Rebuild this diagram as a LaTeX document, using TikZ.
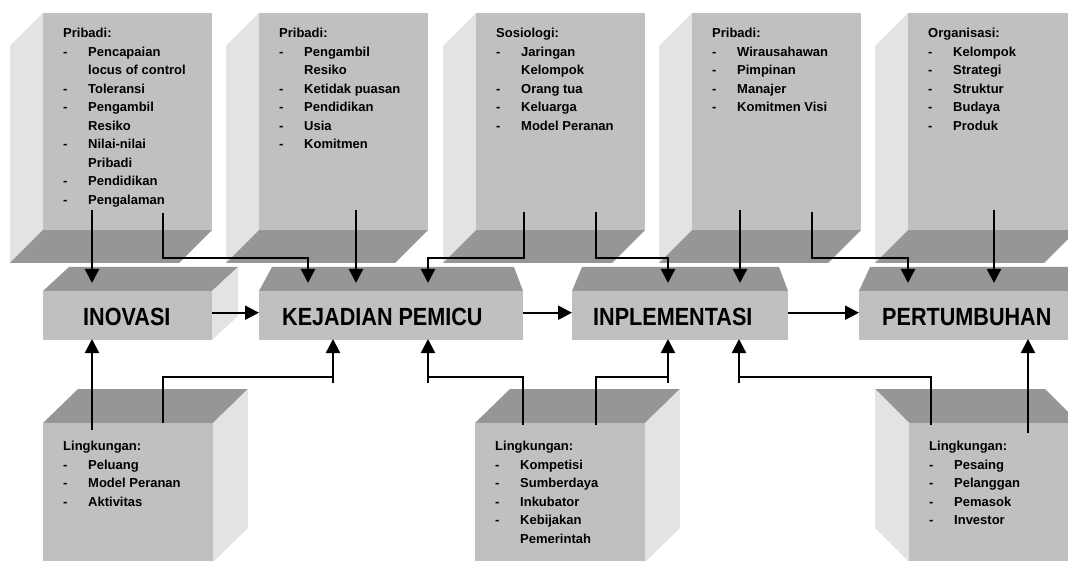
\documentclass[tikz,border=0pt]{standalone}
\usepackage{fontspec}
\setmainfont{Liberation Sans}
\usepackage{graphicx}
\usepackage{tikz}
\usetikzlibrary{
  arrows.meta}

\definecolor{facegray}{RGB}{192,192,192}
\definecolor{sidegray}{RGB}{227,227,227}
\definecolor{shadegray}{RGB}{150,150,150}

\newcommand{\li}[1]{\makebox[25pt][l]{-}#1}
\newcommand{\lc}[1]{\hspace*{25pt}#1}
\newcommand{\tall}[1]{\scalebox{1}[1.15]{#1}}

% upper column: side face to the left, shade underneath
\newcommand{\topbox}[2]{%
  \fill[sidegray] (#1,13) -- ++(-33,33) -- ++(0,217) -- ++(33,-33) -- cycle;
  \fill[shadegray] (#1,230) -- ++(169,0) -- ++(-33,33) -- ++(-169,0) -- cycle;
  \node[facebox, minimum width=169pt, minimum height=217pt] (#2) at (#1,13) {};
}
% lower column: lid on top, side face to the right
\newcommand{\lowbox}[2]{%
  \fill[shadegray] (#1,423) -- ++(35,-34) -- ++(170,0) -- ++(-35,34) -- cycle;
  \fill[sidegray] (#1+170,423) -- ++(35,-34) -- ++(0,139) -- ++(-35,34) -- cycle;
  \node[facebox, minimum width=170pt, minimum height=150pt] (#2) at (#1,423) {};
}

\tikzset{
  facebox/.style={fill=facegray, draw=none, inner sep=0pt, anchor=north west},
  listtext/.style={anchor=north west, inner sep=0pt, align=left,
    font=\bfseries\fontsize{13}{18.5}\selectfont},
  stagetext/.style={anchor=west, inner sep=0pt,
    font=\bfseries\fontsize{21.6}{24}\selectfont},
  link/.style={line width=2.2pt},
  linkarrow/.style={line width=2.2pt, -{Triangle[length=14pt,width=14pt]}}
}

\begin{document}
\begin{tikzpicture}[x=1pt, y=-1pt]
\useasboundingbox (0,0) rectangle (1068,561);
\clip (0,0) rectangle (1068,561);

% upper columns
\topbox{43}{pri1}
\topbox{259}{pri2}
\topbox{476}{sos}
\topbox{692}{pri3}
\topbox{908}{org}

\node[listtext] (pri1txt) at (63,28) {Pribadi:\\ \li{Pencapaian}\\ \lc{locus of control}\\
  \li{Toleransi}\\ \li{Pengambil}\\ \lc{Resiko}\\ \li{Nilai-nilai}\\ \lc{Pribadi}\\
  \li{Pendidikan}\\ \li{Pengalaman}};
\node[listtext] (pri2txt) at (279,28) {Pribadi:\\ \li{Pengambil}\\ \lc{Resiko}\\
  \li{Ketidak puasan}\\ \li{Pendidikan}\\ \li{Usia}\\ \li{Komitmen}};
\node[listtext] (sostxt) at (496,28) {Sosiologi:\\ \li{Jaringan}\\ \lc{Kelompok}\\
  \li{Orang tua}\\ \li{Keluarga}\\ \li{Model Peranan}};
\node[listtext] (pri3txt) at (712,28) {Pribadi:\\ \li{Wirausahawan}\\ \li{Pimpinan}\\
  \li{Manajer}\\ \li{Komitmen Visi}};
\node[listtext] (orgtxt) at (928,28) {Organisasi:\\ \li{Kelompok}\\ \li{Strategi}\\
  \li{Struktur}\\ \li{Budaya}\\ \li{Produk}};

% stages
\fill[shadegray] (43,291) -- ++(26,-24) -- ++(169,0) -- ++(-26,24) -- cycle;
\fill[sidegray] (212,291) -- ++(26,-24) -- ++(0,49) -- ++(-26,24) -- cycle;
\node[facebox, minimum width=169pt, minimum height=49pt] (ino) at (43,291) {};
\fill[shadegray] (259,291) -- (272,267) -- (514,267) -- (523,291) -- cycle;
\node[facebox, minimum width=264pt, minimum height=49pt] (kej) at (259,291) {};
\fill[shadegray] (572,291) -- (582,267) -- (779,267) -- (788,291) -- cycle;
\node[facebox, minimum width=216pt, minimum height=49pt] (imp) at (572,291) {};
\fill[shadegray] (859,291) -- (870,267) -- (1081,267) -- (1090,291) -- cycle;
\node[facebox, minimum width=231pt, minimum height=49pt] (per) at (859,291) {};

\node[stagetext] (inotxt) at (83,317) {\tall{INOVASI}};
\node[stagetext] (kejtxt) at (282,317) {\tall{KEJADIAN PEMICU}};
\node[stagetext] (imptxt) at (593,317) {\tall{INPLEMENTASI}};
\node[stagetext] (pertxt) at (882,317) {\tall{PERTUMBUHAN}};

% lower columns
\lowbox{43}{env1}
\lowbox{475}{env2}
\fill[shadegray] (909,423) -- ++(-34,-34) -- ++(170,0) -- ++(34,34) -- cycle;
\fill[sidegray] (909,423) -- ++(-34,-34) -- ++(0,139) -- ++(34,34) -- cycle;
\node[facebox, minimum width=170pt, minimum height=150pt] (env3) at (909,423) {};

\node[listtext] (env1txt) at (63,441) {Lingkungan:\\ \li{Peluang}\\ \li{Model Peranan}\\
  \li{Aktivitas}};
\node[listtext] (env2txt) at (495,441) {Lingkungan:\\ \li{Kompetisi}\\ \li{Sumberdaya}\\
  \li{Inkubator}\\ \li{Kebijakan}\\ \lc{Pemerintah}};
\node[listtext] (env3txt) at (929,441) {Lingkungan:\\ \li{Pesaing}\\ \li{Pelanggan}\\
  \li{Pemasok}\\ \li{Investor}};

% connector ends
\coordinate (t1a) at (92,210);
\coordinate (t1b) at (163,213);
\coordinate (t2a) at (356,210);
\coordinate (t3a) at (524,212);
\coordinate (t3b) at (596,212);
\coordinate (t4a) at (740,210);
\coordinate (t4b) at (812,212);
\coordinate (t5a) at (994,210);
\coordinate (ino1) at (92,283);
\coordinate (kej1) at (308,283);
\coordinate (kej2) at (356,283);
\coordinate (kej3) at (428,283);
\coordinate (imp1) at (668,283);
\coordinate (imp2) at (740,283);
\coordinate (per1) at (908,283);
\coordinate (per2) at (994,283);

\coordinate (b1a) at (92,430);
\coordinate (b1b) at (163,423);
\coordinate (b2a) at (523,425);
\coordinate (b2b) at (596,425);
\coordinate (b3a) at (931,425);
\coordinate (b3b) at (1028,433);
\coordinate (ino2) at (92,339);
\coordinate (kej4) at (333,339);
\coordinate (kej5) at (428,339);
\coordinate (imp3) at (668,339);
\coordinate (imp4) at (739,339);
\coordinate (per3) at (1028,339);

% from above
\draw[linkarrow] (t1a) -- (ino1);
\draw[linkarrow] (t1b) |- ([yshift=25pt]kej1) -- (kej1);
\draw[linkarrow] (t2a) -- (kej2);
\draw[linkarrow] (t3a) |- ([yshift=25pt]kej3) -- (kej3);
\draw[linkarrow] (t3b) |- ([yshift=25pt]imp1) -- (imp1);
\draw[linkarrow] (t4a) -- (imp2);
\draw[linkarrow] (t4b) |- ([yshift=25pt]per1) -- (per1);
\draw[linkarrow] (t5a) -- (per2);

% along the chain
\draw[linkarrow] ([yshift=3pt]ino.east) -- ([yshift=3pt]kej.west);
\draw[linkarrow] ([yshift=3pt]kej.east) -- ([yshift=3pt]imp.west);
\draw[linkarrow] ([yshift=3pt]imp.east) -- ([yshift=3pt]per.west);

% from below
\draw[linkarrow] (b1a) -- (ino2);
\draw[link] (b1b) |- ([yshift=-38pt]kej4);
\draw[linkarrow] ([yshift=-44pt]kej4) -- (kej4);
\draw[link] (b2a) |- ([yshift=-38pt]kej5);
\draw[linkarrow] ([yshift=-44pt]kej5) -- (kej5);
\draw[link] (b2b) |- ([yshift=-38pt]imp3);
\draw[linkarrow] ([yshift=-44pt]imp3) -- (imp3);
\draw[link] (b3a) |- ([yshift=-38pt]imp4);
\draw[linkarrow] ([yshift=-44pt]imp4) -- (imp4);
\draw[linkarrow] (b3b) -- (per3);
\end{tikzpicture}
\end{document}
